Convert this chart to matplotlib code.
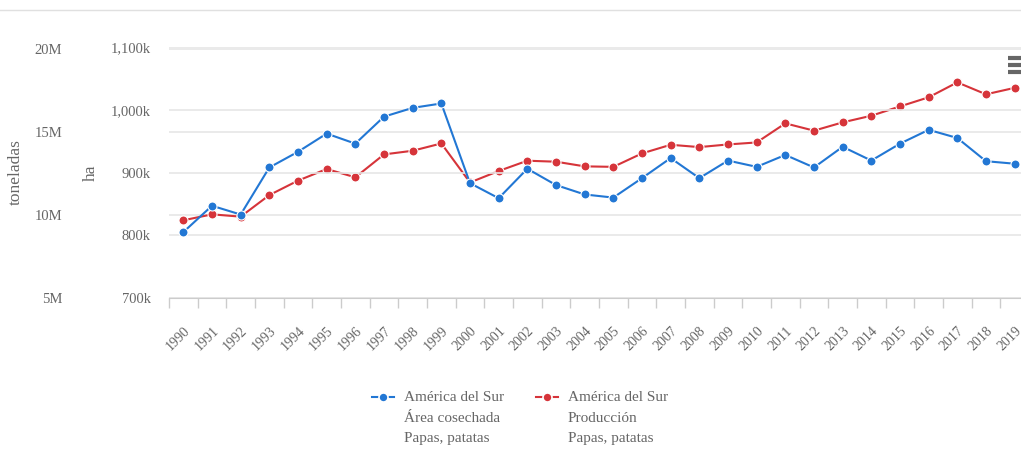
import matplotlib.pyplot as plt
from matplotlib.lines import Line2D
from matplotlib.ticker import FuncFormatter

plt.rcParams['font.family'] = ['Liberation Serif', 'DejaVu Serif']

years = list(range(1990, 2020))

# Área cosechada, ha (miles)
area_ha = [805, 847, 833, 908, 933, 962, 946, 989, 1003, 1010,
           883, 859, 906, 880, 865, 860, 891, 923, 891, 919,
           909, 928, 908, 941, 919, 946, 968, 955, 918, 914]

# Producción, toneladas (millones)
prod_t = [9.68, 10.04, 9.90, 11.20, 12.07, 12.77, 12.27, 13.65, 13.87, 14.31,
          11.96, 12.65, 13.27, 13.21, 12.93, 12.90, 13.71, 14.23, 14.09, 14.25,
          14.37, 15.52, 15.08, 15.58, 15.98, 16.54, 17.09, 17.99, 17.27, 17.66]

blue = '#2277d4'
red = '#d6343a'
grid_c = '#e6e6e6'
txt_c = '#666666'

W, H = 1021, 453
fig = plt.figure(figsize=(W / 100, H / 100), dpi=100)

x0, x1 = 169, 1029
ytop, ybot = 47, 298
ax = fig.add_axes([x0 / W, 1 - ybot / H, (x1 - x0) / W, (ybot - ytop) / H])
ax2 = ax.twinx()

xs = list(range(len(years)))
ax.plot(xs, [v * 1000 for v in area_ha], color=blue, lw=1.5, marker='o', ms=6.5,
        mec='white', mew=0.8, zorder=3)
ax2.plot(xs, [v * 1e6 for v in prod_t], color=red, lw=1.5, marker='o', ms=6.5,
         mec='white', mew=0.8, zorder=3)

ax.set_xlim(-0.5, len(years) - 0.5)
ax.set_ylim(700000, 1100000)
ax2.set_ylim(5e6, 20.12e6)

ax.set_yticks([700000, 800000, 900000, 1000000, 1100000])
ax.yaxis.set_major_formatter(FuncFormatter(lambda v, p: '{:,.0f}k'.format(v / 1000)))
ax2.set_yticks([5e6, 10e6, 15e6, 20e6])
ax2.yaxis.set_major_formatter(FuncFormatter(lambda v, p: '{:.0f}M'.format(v / 1e6)))

ax2.yaxis.tick_left()
ax2.yaxis.set_label_position('left')

for a in (ax, ax2):
    for s in a.spines.values():
        s.set_visible(False)
    a.grid(axis='y', color=grid_c, lw=1.2)
    a.set_axisbelow(True)
ax.set_zorder(ax2.get_zorder() + 1)
ax.patch.set_visible(False)

ax.tick_params(axis='y', length=0, pad=13, labelsize=10.5, labelcolor=txt_c)
ax2.tick_params(axis='y', length=0, pad=77, labelsize=10.5, labelcolor=txt_c,
                left=False, right=False, labelleft=True, labelright=False)

ax.spines['bottom'].set_visible(True)
ax.spines['bottom'].set_color('#cccccc')
ax.set_xticks([i - 0.5 for i in range(len(years) + 1)])
ax.set_xticklabels([])
ax.tick_params(axis='x', which='major', length=7, color='#cccccc', width=1)
ax.set_xticks(xs, minor=True)
ax.set_xticklabels([str(y) for y in years], minor=True, rotation=45, ha='right',
                   rotation_mode='anchor', fontsize=10, color=txt_c)
ax.tick_params(axis='x', which='minor', length=0, pad=19)

ax.set_ylabel('ha', fontsize=12.5, color=txt_c)
ax2.set_ylabel('toneladas', fontsize=12.5, color=txt_c)
ax.yaxis.set_label_coords((99 - x0) / (x1 - x0), 0.5)
ax2.yaxis.set_label_coords((24 - x0) / (x1 - x0), 0.5)

# top border line
fig.add_artist(Line2D([0, 1], [1 - 10 / H, 1 - 10 / H], color='#e0e0e0', lw=1))

# menu icon
for yy in (58, 65, 72):
    fig.add_artist(Line2D([1008 / W, 1021 / W], [1 - yy / H, 1 - yy / H],
                          color='#666666', lw=3, solid_capstyle='butt'))

# legend
legend_items = [
    (blue, 372, 'América del Sur\nÁrea cosechada\nPapas, patatas'),
    (red, 536, 'América del Sur\nProducción\nPapas, patatas'),
]
for col, lx, label in legend_items:
    ly = 1 - 397 / H
    fig.add_artist(Line2D([lx / W, (lx + 22) / W], [ly, ly], color=col, lw=1.5))
    fig.add_artist(Line2D([(lx + 11) / W], [ly], color=col, marker='o', ms=6.5,
                          mec='white', mew=1.2, lw=0))
    fig.text((lx + 32) / W, 1 - 391 / H, label, fontsize=11, color=txt_c,
             va='top', ha='left', linespacing=1.75)

fig.savefig('out.png', dpi=100)
